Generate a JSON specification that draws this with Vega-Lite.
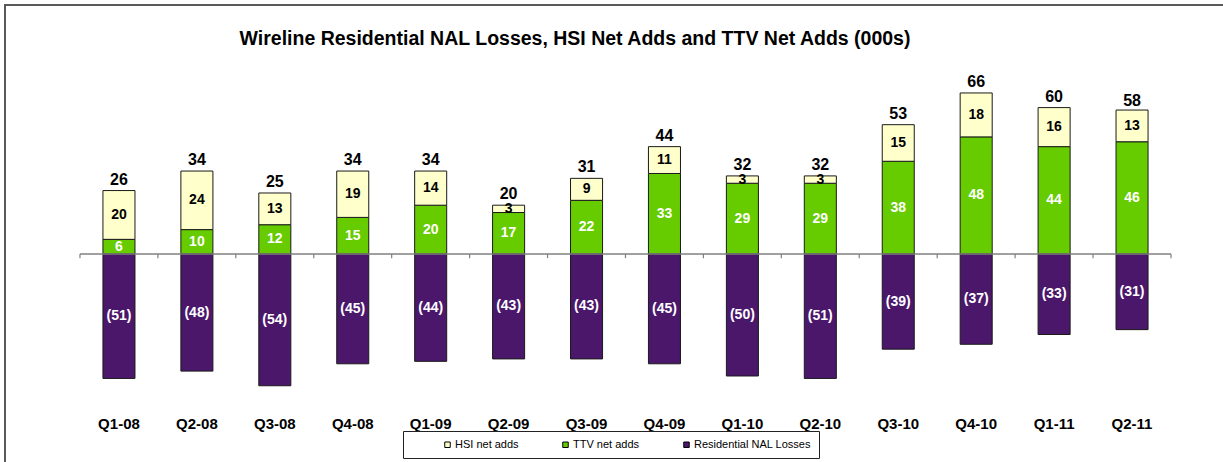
{
  "$schema": "https://vega.github.io/schema/vega-lite/v6.json",
  "autosize": {"type": "none"},
  "padding": {"left": 5, "top": 5, "right": 0, "bottom": 0},
  "width": 1218,
  "height": 457,
  "title": {
    "text": "Wireline Residential NAL Losses, HSI Net Adds and TTV Net Adds (000s)",
    "font": "Liberation Sans",
    "fontSize": 19.5,
    "fontWeight": "bold",
    "color": "black",
    "anchor": "middle",
    "dx": -39,
    "offset": -44
  },
  "config": {
    "font": "Liberation Sans",
    "view": {"stroke": "#595959", "strokeWidth": 2, "strokeDash": [1218, 1675, 470]}
  },
  "datasets": {
    "segs": [
      {"q": "Q1-08", "series": "TTV net adds", "value": 6},
      {"q": "Q1-08", "series": "HSI net adds", "value": 20},
      {"q": "Q1-08", "series": "Residential NAL Losses", "value": -51},
      {"q": "Q2-08", "series": "TTV net adds", "value": 10},
      {"q": "Q2-08", "series": "HSI net adds", "value": 24},
      {"q": "Q2-08", "series": "Residential NAL Losses", "value": -48},
      {"q": "Q3-08", "series": "TTV net adds", "value": 12},
      {"q": "Q3-08", "series": "HSI net adds", "value": 13},
      {"q": "Q3-08", "series": "Residential NAL Losses", "value": -54},
      {"q": "Q4-08", "series": "TTV net adds", "value": 15},
      {"q": "Q4-08", "series": "HSI net adds", "value": 19},
      {"q": "Q4-08", "series": "Residential NAL Losses", "value": -45},
      {"q": "Q1-09", "series": "TTV net adds", "value": 20},
      {"q": "Q1-09", "series": "HSI net adds", "value": 14},
      {"q": "Q1-09", "series": "Residential NAL Losses", "value": -44},
      {"q": "Q2-09", "series": "TTV net adds", "value": 17},
      {"q": "Q2-09", "series": "HSI net adds", "value": 3},
      {"q": "Q2-09", "series": "Residential NAL Losses", "value": -43},
      {"q": "Q3-09", "series": "TTV net adds", "value": 22},
      {"q": "Q3-09", "series": "HSI net adds", "value": 9},
      {"q": "Q3-09", "series": "Residential NAL Losses", "value": -43},
      {"q": "Q4-09", "series": "TTV net adds", "value": 33},
      {"q": "Q4-09", "series": "HSI net adds", "value": 11},
      {"q": "Q4-09", "series": "Residential NAL Losses", "value": -45},
      {"q": "Q1-10", "series": "TTV net adds", "value": 29},
      {"q": "Q1-10", "series": "HSI net adds", "value": 3},
      {"q": "Q1-10", "series": "Residential NAL Losses", "value": -50},
      {"q": "Q2-10", "series": "TTV net adds", "value": 29},
      {"q": "Q2-10", "series": "HSI net adds", "value": 3},
      {"q": "Q2-10", "series": "Residential NAL Losses", "value": -51},
      {"q": "Q3-10", "series": "TTV net adds", "value": 38},
      {"q": "Q3-10", "series": "HSI net adds", "value": 15},
      {"q": "Q3-10", "series": "Residential NAL Losses", "value": -39},
      {"q": "Q4-10", "series": "TTV net adds", "value": 48},
      {"q": "Q4-10", "series": "HSI net adds", "value": 18},
      {"q": "Q4-10", "series": "Residential NAL Losses", "value": -37},
      {"q": "Q1-11", "series": "TTV net adds", "value": 44},
      {"q": "Q1-11", "series": "HSI net adds", "value": 16},
      {"q": "Q1-11", "series": "Residential NAL Losses", "value": -33},
      {"q": "Q2-11", "series": "TTV net adds", "value": 46},
      {"q": "Q2-11", "series": "HSI net adds", "value": 13},
      {"q": "Q2-11", "series": "Residential NAL Losses", "value": -31}
    ],
    "totals": [
      {"q": "Q1-08", "total": 26},
      {"q": "Q2-08", "total": 34},
      {"q": "Q3-08", "total": 25},
      {"q": "Q4-08", "total": 34},
      {"q": "Q1-09", "total": 34},
      {"q": "Q2-09", "total": 20},
      {"q": "Q3-09", "total": 31},
      {"q": "Q4-09", "total": 44},
      {"q": "Q1-10", "total": 32},
      {"q": "Q2-10", "total": 32},
      {"q": "Q3-10", "total": 53},
      {"q": "Q4-10", "total": 66},
      {"q": "Q1-11", "total": 60},
      {"q": "Q2-11", "total": 58}
    ],
    "span": [{"start": "Q1-08", "end": "Q2-11"}]
  },
  "layer": [
    {
      "data": {"name": "segs"},
      "transform": [
        {"stack": "value", "groupby": ["q"], "sort": [{"field": "series", "order": "descending"}], "as": ["y0", "y1"]}
      ],
      "mark": {"type": "bar", "stroke": "#1a1a1a", "strokeWidth": 1},
      "encoding": {
        "x": {
          "field": "q", "type": "nominal", "title": null,
          "scale": {
            "domain": ["Q1-08","Q2-08","Q3-08","Q4-08","Q1-09","Q2-09","Q3-09","Q4-09","Q1-10","Q2-10","Q3-10","Q4-10","Q1-11","Q2-11"],
            "range": [75, 1166],
            "paddingInner": 0.589, "paddingOuter": 0.2945
          },
          "axis": {
            "orient": "bottom", "offset": -46, "labelPadding": 0, "ticks": false, "domain": false,
            "labelFont": "Liberation Sans", "labelFontSize": 15, "labelFontWeight": "bold",
            "labelColor": "black", "labelAngle": 0, "grid": false
          }
        },
        "y": {
          "field": "y0", "type": "quantitative", "axis": null,
          "scale": {"domain": [-85.25, 102.05], "nice": false, "zero": false}
        },
        "y2": {"field": "y1"},
        "color": {
          "field": "series", "type": "nominal",
          "scale": {
            "domain": ["HSI net adds", "TTV net adds", "Residential NAL Losses"],
            "range": ["#FFFFCC", "#66CC00", "#4B176B"]
          },
          "legend": {
            "orient": "none", "legendX": 398, "legendY": 426, "direction": "horizontal",
            "title": " ", "titleOrient": "left", "titlePadding": 31, "titleFontSize": 11,
            "padding": 8, "strokeColor": "#222222", "columnPadding": 41,
            "labelFont": "Liberation Sans", "labelFontSize": 11, "labelColor": "black", "labelOffset": 2,
            "labelExpr": "datum.label == 'Residential NAL Losses' ? datum.label + '       ' : datum.label",
            "symbolType": "square", "symbolSize": 30, "symbolStrokeColor": "black", "symbolStrokeWidth": 1
          }
        }
      }
    },
    {
      "data": {"name": "span"},
      "mark": {"type": "rule", "color": "#808080", "strokeWidth": 1.4},
      "encoding": {
        "x": {"field": "start", "type": "nominal", "bandPosition": -0.7176, "title": null},
        "x2": {"field": "end", "bandPosition": 1.7176},
        "y": {"datum": 0, "type": "quantitative", "axis": null}
      }
    },
    {
      "data": {"name": "totals"},
      "mark": {"type": "rule", "color": "#808080", "strokeWidth": 1.2},
      "encoding": {
        "x": {"field": "q", "type": "nominal", "bandPosition": -0.7176, "title": null},
        "y": {"datum": 0, "type": "quantitative", "axis": null},
        "y2": {"datum": -1.7}
      }
    },
    {
      "data": {"name": "totals"},
      "transform": [{"filter": "datum.q == 'Q2-11'"}],
      "mark": {"type": "rule", "color": "#808080", "strokeWidth": 1.2},
      "encoding": {
        "x": {"field": "q", "type": "nominal", "bandPosition": 1.7176, "title": null},
        "y": {"datum": 0, "type": "quantitative", "axis": null},
        "y2": {"datum": -1.7}
      }
    },
    {
      "data": {"name": "segs"},
      "transform": [
        {"stack": "value", "groupby": ["q"], "sort": [{"field": "series", "order": "descending"}], "as": ["y0", "y1"]},
        {"calculate": "(datum.y0 + datum.y1) / 2", "as": "mid"}
      ],
      "mark": {"type": "text", "font": "Liberation Sans", "fontSize": 14, "fontWeight": "bold", "baseline": "middle", "align": "center"},
      "encoding": {
        "x": {"field": "q", "type": "nominal", "title": null},
        "y": {"field": "mid", "type": "quantitative", "axis": null},
        "text": {"field": "value", "type": "quantitative", "format": "(.0f"},
        "color": {
          "condition": {"test": "datum.series == 'HSI net adds'", "value": "black"},
          "value": "white"
        }
      }
    },
    {
      "data": {"name": "totals"},
      "mark": {"type": "text", "font": "Liberation Sans", "fontSize": 16, "fontWeight": "bold", "baseline": "alphabetic", "align": "center", "dy": -6, "color": "black"},
      "encoding": {
        "x": {"field": "q", "type": "nominal", "title": null},
        "y": {"field": "total", "type": "quantitative", "axis": null},
        "text": {"field": "total", "type": "quantitative"}
      }
    }
  ]
}
